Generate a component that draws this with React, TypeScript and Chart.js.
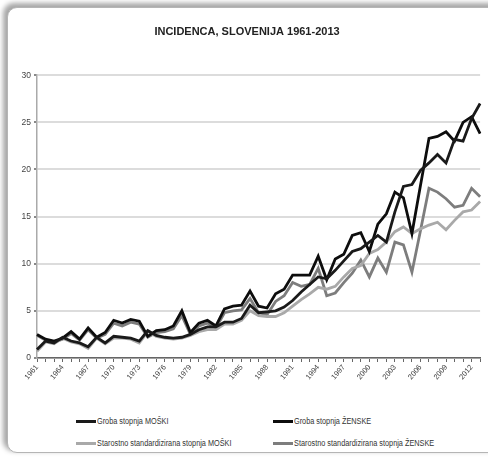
import React, { useEffect, useRef } from 'react';
import { Chart, registerables } from 'chart.js';

Chart.register(...registerables);

const years = [
  '1961','1962','1963','1964','1965','1966','1967','1968','1969','1970',
  '1971','1972','1973','1974','1975','1976','1977','1978','1979','1980',
  '1981','1982','1983','1984','1985','1986','1987','1988','1989','1990',
  '1991','1992','1993','1994','1995','1996','1997','1998','1999','2000',
  '2001','2002','2003','2004','2005','2006','2007','2008','2009','2010',
  '2011','2012','2013',
];

const shownTickLabels = [
  '1961','1964','1967','1970','1973','1976','1979','1982','1985',
  '1988','1991','1994','1997','2000','2003','2006','2009','2012',
];

const yTicks = [0, 5, 10, 15, 20, 25, 30];

const grobaMoski = [
  0.9, 1.8, 1.6, 2.2, 1.8, 1.6, 1.2, 2.2, 1.6, 2.3,
  2.2, 2.1, 1.8, 2.9, 2.4, 2.2, 2.1, 2.2, 2.5, 3.0,
  3.3, 3.3, 3.8, 3.8, 4.2, 5.6, 4.8, 4.9, 5.0, 5.4,
  6.1, 7.0, 7.8, 8.6, 8.4, 9.3, 10.3, 11.3, 11.6, 12.3,
  13.0, 12.3, 15.5, 18.2, 18.4, 19.9, 20.7, 21.6, 20.7, 23.2,
  23.0, 25.4, 27.0,
];

const grobaZenske = [
  2.5, 2.0, 1.8, 2.1, 2.8, 2.0, 3.2, 2.2, 2.7, 4.0,
  3.7, 4.1, 3.9, 2.3, 2.9, 3.0, 3.4, 5.0, 2.7, 3.7,
  4.0, 3.4, 5.2, 5.5, 5.6, 7.1, 5.5, 5.3, 6.8, 7.3,
  8.8, 8.8, 8.8, 10.8, 8.3, 10.5, 11.0, 13.0, 13.3, 11.3,
  14.2, 15.3, 17.6, 17.0, 13.2, 18.3, 23.3, 23.5, 24.0, 23.0,
  25.0, 25.6, 23.8,
];

const stdMoski = [
  0.7, 1.7, 1.5, 2.1, 1.7, 1.5, 1.0, 2.1, 1.5, 2.1,
  2.1, 2.0, 1.6, 2.8, 2.3, 2.1, 2.0, 2.1, 2.4, 2.8,
  3.0, 3.0, 3.6, 3.6, 4.0, 5.0, 4.5, 4.4, 4.4, 4.8,
  5.5, 6.2, 6.8, 7.5, 7.3, 7.6, 8.6, 9.5, 9.8, 11.1,
  11.5, 12.3, 13.4, 13.9, 13.2, 13.7, 14.1, 14.4, 13.6, 14.6,
  15.5, 15.7, 16.6,
];

const stdZenske = [
  2.4, 1.9, 1.7, 2.0, 2.6, 1.9, 3.0, 2.1, 2.5, 3.7,
  3.4, 3.8, 3.6, 2.2, 2.7, 2.8, 3.1, 4.5, 2.5, 3.4,
  3.7, 3.2, 4.8, 5.0, 5.1, 6.3, 4.8, 4.6, 6.0, 6.6,
  8.0, 7.6, 7.8, 9.5, 6.6, 6.9, 8.0, 9.0, 10.4, 8.6,
  10.6, 9.1, 12.3, 12.0, 9.1, 13.5, 18.0, 17.6, 16.9, 16.0,
  16.2, 18.0, 17.1,
];

const seriesNames = [
  'Groba stopnja MOŠKI',
  'Groba stopnja ŽENSKE',
  'Starostno standardizirana stopnja MOŠKI',
  'Starostno standardizirana stopnja ŽENSKE',
];
const seriesColors = ['#1a1a1a', '#0d0d0d', '#a9a9a9', '#7d7d7d'];

const FONT = "'Liberation Sans', Arial, sans-serif";

export default function App() {
  const ref = useRef<HTMLCanvasElement | null>(null);

  useEffect(() => {
    if (!ref.current) return;
    const data = [grobaMoski, grobaZenske, stdMoski, stdZenske];
    const chart = new Chart(ref.current, {
      type: 'line',
      data: {
        labels: years,
        datasets: data.map((d, i) => ({
          label: seriesNames[i],
          data: d,
          borderColor: seriesColors[i],
          backgroundColor: seriesColors[i],
          borderWidth: 2.8,
          pointRadius: 0,
          tension: 0,
          fill: false,
          order: i < 2 ? 0 : 1,
        })),
      },
      options: {
        responsive: false,
        animation: false,
        layout: { padding: { left: 0, right: 2, top: 0, bottom: 0 } },
        plugins: {
          legend: { display: false },
          tooltip: { enabled: false },
          title: {
            display: true,
            text: 'INCIDENCA, SLOVENIJA 1961-2013',
            color: '#222',
            font: { family: FONT, size: 11, weight: 'bold' },
            padding: { top: 17, bottom: 37 },
          },
        },
        scales: {
          x: {
            type: 'category',
            offset: false,
            afterFit: (s: any) => { s.height = 50; },
            grid: {
              display: true,
              drawOnChartArea: false,
              drawTicks: true,
              tickLength: 4,
              tickColor: '#666',
            },
            border: { display: true, color: '#666', width: 1.5 },
            ticks: {
              autoSkip: false,
              maxRotation: 50,
              minRotation: 50,
              padding: 1,
              color: '#444',
              font: { family: FONT, size: 7.5 },
              callback: function (this: any, value: any, index: number) {
                const lab = years[index];
                return shownTickLabels.includes(lab) ? lab : '';
              },
            },
          },
          y: {
            min: 0,
            max: 30,
            afterFit: (s: any) => { s.width = 29; },
            afterBuildTicks: (s: any) => { s.ticks = yTicks.map((v) => ({ value: v })); },
            grid: {
              color: '#dcdcdc',
              lineWidth: 2,
              drawTicks: true,
              tickLength: 3,
              tickColor: '#888',
            },
            border: { display: true, color: '#aaa', width: 1.5 },
            ticks: {
              padding: 3,
              color: '#444',
              font: { family: FONT, size: 8.5 },
            },
          },
        },
      },
    });
    return () => chart.destroy();
  }, []);

  const legendItem = (i: number, left: number, top: number) => (
    <div
      key={i}
      style={{
        position: 'absolute',
        left,
        top,
        display: 'flex',
        alignItems: 'center',
        fontFamily: FONT,
        fontSize: 8.5,
        color: '#333',
        whiteSpace: 'nowrap',
      }}
    >
      <span
        style={{
          display: 'inline-block',
          width: 20,
          height: 3,
          background: seriesColors[i],
          marginRight: 1,
        }}
      />
      <span style={{ display: 'inline-block', transform: 'scaleX(0.86)', transformOrigin: 'left center' }}>
        {seriesNames[i]}
      </span>
    </div>
  );

  return (
    <div style={{ position: 'fixed', inset: 0, background: '#ffffff', overflow: 'hidden' }}>
      <div
        style={{
          position: 'absolute',
          left: 7,
          top: 7,
          width: 500,
          height: 444,
          borderRadius: 10,
          border: '1px solid #b5b5b5',
          background: '#ffffff',
          boxShadow: '-3px -3px 5px 1px rgba(0,0,0,0.35)',
        }}
      />
      <canvas
        ref={ref}
        width={480}
        height={400}
        style={{ position: 'absolute', left: 8, top: 8, width: 480, height: 400, display: 'block' }}
      />
      {legendItem(0, 76, 416)}
      {legendItem(1, 273, 416)}
      {legendItem(2, 76, 438)}
      {legendItem(3, 273, 438)}
    </div>
  );
}
